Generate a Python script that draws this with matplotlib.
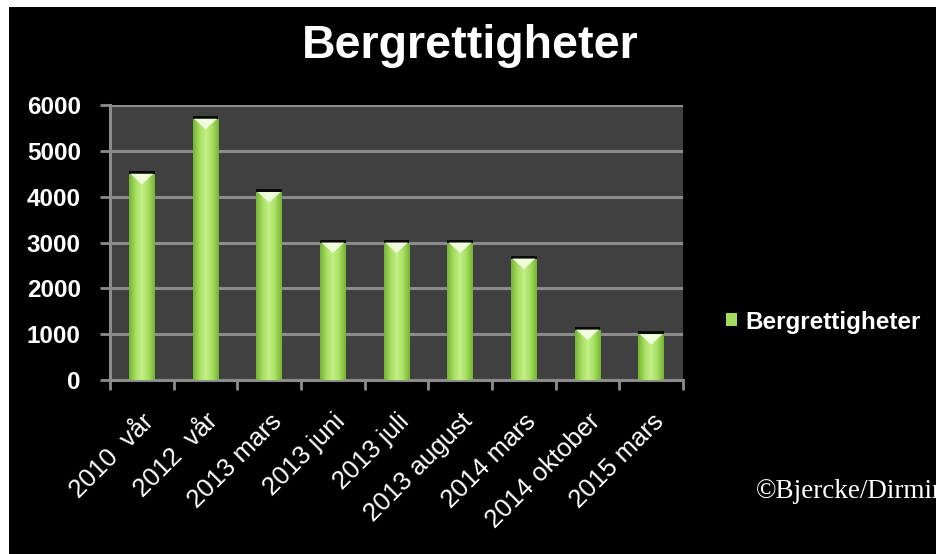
import matplotlib
matplotlib.use("Agg")
import matplotlib.pyplot as plt
import numpy as np
from matplotlib.patches import Rectangle, Polygon
from matplotlib.colors import LinearSegmentedColormap

categories = ["2010  vår", "2012  vår", "2013 mars", "2013 juni", "2013 juli",
              "2013 august", "2014 mars", "2014 oktober", "2015 mars"]
values = [4500, 5700, 4100, 3000, 3000, 3000, 2650, 1100, 1000]
yticks = [0, 1000, 2000, 3000, 4000, 5000, 6000]
title = "Bergrettigheter"
series_name = "Bergrettigheter"
credit = "©Bjercke/Dirmin"

W, H = 936, 554
fig = plt.figure(figsize=(W / 100, H / 100), dpi=100)
fig.patch.set_facecolor("white")
# black background with white frame on left/top
bg = Rectangle((9 / W, 0), 1 - 9 / W, 1 - 7 / H, transform=fig.transFigure,
               facecolor="black", edgecolor="none", zorder=-10)
fig.patches.append(bg)

ax = fig.add_axes([110 / W, 1 - 380 / H, (683 - 110) / W, (380 - 105) / H])
ax.set_zorder(5)
ax.set_facecolor("#404040")
x = np.arange(len(categories))
bar_w = 0.4
cmap = LinearSegmentedColormap.from_list("g", ["#74b435", "#a8de62", "#c4f08a", "#a8de62", "#74b435"])
bars = ax.bar(x, values, width=bar_w, color="#a2da5c", zorder=3)
grad = np.linspace(0, 1, 64).reshape(1, -1)
for b in bars:
    x0, y0 = b.get_x(), b.get_y()
    bw, bh = b.get_width(), b.get_height()
    im = ax.imshow(grad, cmap=cmap, aspect="auto", extent=[x0, x0 + bw, y0, y0 + bh],
                   zorder=4, interpolation="bicubic")
    im.set_clip_path(b)
    # dark top shadow
    ax.add_patch(Rectangle((x0, y0 + bh), bw, 60, facecolor="#0a0a0a", edgecolor="none", zorder=3))
    # highlight triangle
    ax.add_patch(Polygon([[x0 + bw * 0.05, y0 + bh], [x0 + bw * 0.95, y0 + bh],
                          [x0 + bw * 0.5, y0 + bh - 230]], closed=True,
                         facecolor="#f6ffe6", edgecolor="none", alpha=0.92, zorder=5))

ax.set_xlim(-0.5, len(categories) - 0.5)
ax.set_ylim(0, 6000)
ax.set_yticks(yticks)
ax.yaxis.grid(True, color="#8c8c8c", linewidth=2.2, zorder=1)
ax.set_axisbelow(True)
for s in ["top", "right"]:
    ax.spines[s].set_visible(False)
for s in ["left", "bottom"]:
    ax.spines[s].set_color("#8c8c8c")
    ax.spines[s].set_linewidth(2.2)
ax.set_xticks(np.arange(len(categories) + 1) - 0.5)
ax.set_xticklabels([])
ax.set_xticks(x, minor=True)
ax.set_xticklabels(categories, minor=True, rotation=45, ha="right", rotation_mode="anchor",
                   fontsize=18.5, color="white", family="Liberation Sans")
ax.tick_params(axis="x", which="major", length=7, width=2, color="#8c8c8c", direction="out")
ax.tick_params(axis="x", which="minor", length=0, pad=21)
ax.tick_params(axis="y", length=7, width=2, color="#8c8c8c", pad=14)
for lbl in ax.get_yticklabels():
    lbl.set_fontsize(17.5)
    lbl.set_fontweight("bold")
    lbl.set_color("white")
    lbl.set_family("Liberation Sans")

fig.text(470 / W, 1 - 46 / H, title, ha="center", va="center", fontsize=33.5,
         fontweight="bold", color="white", family="Liberation Sans")

leg = ax.legend([bars[0]], [series_name], loc="center left", bbox_to_anchor=(714 / W, 1 - 322 / H),
                bbox_transform=fig.transFigure, frameon=False, handlelength=0.45, handleheight=0.45,
                handletextpad=0.35, borderpad=0,
                prop={"family": "Liberation Sans", "weight": "bold", "size": 17.5})
for t in leg.get_texts():
    t.set_color("white")

fig.text(756 / W, 1 - 491 / H, credit, ha="left", va="center", fontsize=19.5,
         color="white", family="Liberation Serif")

fig.savefig("out.png", dpi=100, facecolor=fig.get_facecolor())
